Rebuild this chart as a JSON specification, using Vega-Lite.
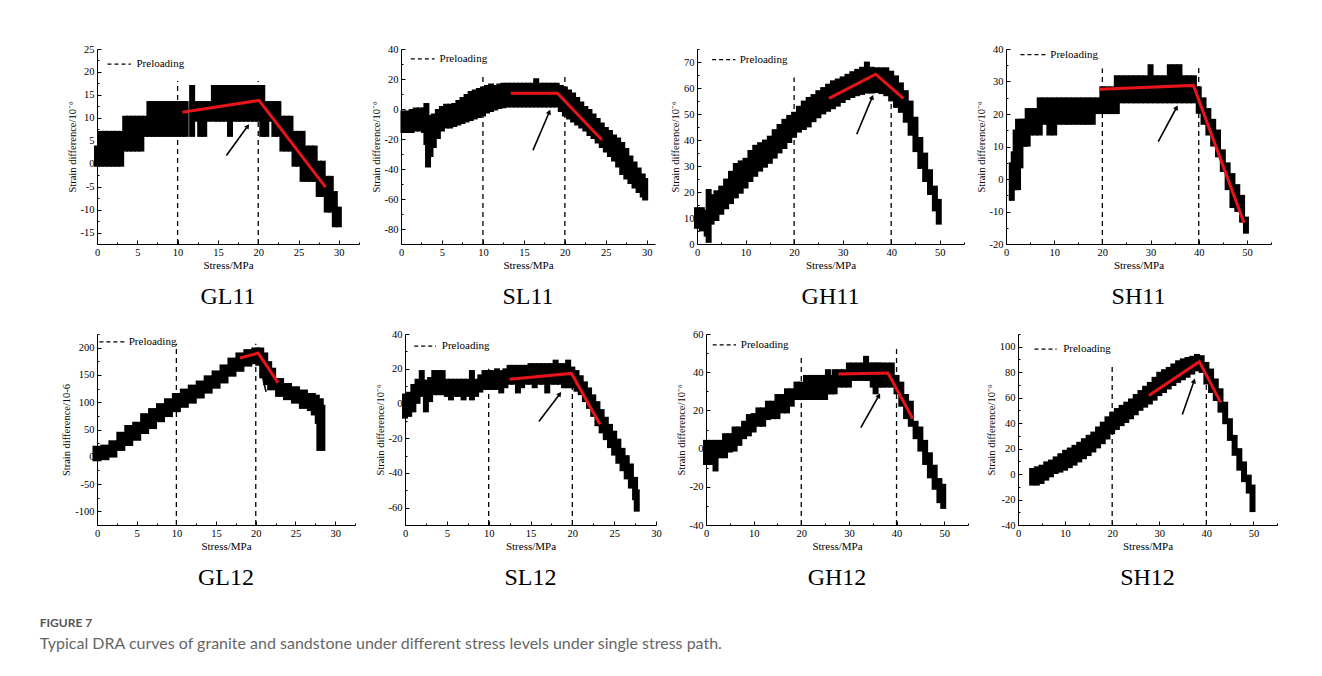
{
"$schema": "https://vega.github.io/schema/vega-lite/v6.json",
"background": "white",
"padding": {"left": 39, "top": 44, "right": 10, "bottom": 20},
"config": {
  "view": {"stroke": null},
  "axis": {"labelFont": "Liberation Serif", "titleFont": "Liberation Serif", "labelFontSize": 10.5, "titleFontSize": 11, "titleFontWeight": "normal", "labelColor": "#000", "titleColor": "#000", "domainColor": "#000", "tickColor": "#000", "grid": false, "tickSize": -4, "labelPadding": 7, "domainWidth": 1, "tickWidth": 1, "labelFlush": false, "labelOverlap": false, "tickCount": 40},
  "axisX": {"titlePadding": 0},
  "axisY": {"titleFontSize": 10.5, "titlePadding": 3}
},
"title": {"text": "FIGURE 7", "subtitle": "Typical DRA curves of granite and sandstone under different stress levels under single stress path.", "orient": "bottom", "anchor": "start", "font": "Lato", "fontSize": 12, "fontWeight": "bold", "color": "#555", "subtitleFont": "Lato", "subtitleFontSize": 16, "subtitleColor": "#666", "subtitlePadding": 6, "offset": 28, "dx": -22},
"datasets": {
  "pre": [
    {"p": "GL11", "x": 10, "y1": -17.5, "y2": 18}, {"p": "GL11", "x": 20, "y1": -17.5, "y2": 18},
    {"p": "SL11", "x": 10, "y1": -90, "y2": 23}, {"p": "SL11", "x": 20, "y1": -90, "y2": 24},
    {"p": "GH11", "x": 20, "y1": 0, "y2": 64}, {"p": "GH11", "x": 40, "y1": 0, "y2": 63.5},
    {"p": "SH11", "x": 20, "y1": -20, "y2": 34}, {"p": "SH11", "x": 40, "y1": -20, "y2": 34.5},
    {"p": "GL12", "x": 10, "y1": -125, "y2": 207}, {"p": "GL12", "x": 20, "y1": -125, "y2": 207},
    {"p": "SL12", "x": 10, "y1": -70, "y2": 20}, {"p": "SL12", "x": 20, "y1": -70, "y2": 20},
    {"p": "GH12", "x": 20, "y1": -40, "y2": 49}, {"p": "GH12", "x": 40, "y1": -40, "y2": 53},
    {"p": "SH12", "x": 20, "y1": -40, "y2": 85}, {"p": "SH12", "x": 40, "y1": -40, "y2": 74}
  ],
  "fit": [
    {"p": "GL11", "o": 1, "x": 10.6, "y": 11.2}, {"p": "GL11", "o": 2, "x": 20.1, "y": 13.8}, {"p": "GL11", "o": 3, "x": 28.35, "y": -5.1},
    {"p": "SL11", "o": 1, "x": 13.4, "y": 10.5}, {"p": "SL11", "o": 2, "x": 19.1, "y": 10.5}, {"p": "SL11", "o": 3, "x": 24.5, "y": -20.5},
    {"p": "GH11", "o": 1, "x": 27.2, "y": 56}, {"p": "GH11", "o": 2, "x": 36.8, "y": 65.3}, {"p": "GH11", "o": 3, "x": 42.5, "y": 56},
    {"p": "SH11", "o": 1, "x": 19.5, "y": 27.6}, {"p": "SH11", "o": 2, "x": 38.9, "y": 28.8}, {"p": "SH11", "o": 3, "x": 49.4, "y": -13.5},
    {"p": "GL12", "o": 1, "x": 18, "y": 181}, {"p": "GL12", "o": 2, "x": 20.3, "y": 190}, {"p": "GL12", "o": 3, "x": 22.8, "y": 136},
    {"p": "SL12", "o": 1, "x": 12.5, "y": 13.9}, {"p": "SL12", "o": 2, "x": 19.9, "y": 17.3}, {"p": "SL12", "o": 3, "x": 23.3, "y": -12},
    {"p": "GH12", "o": 1, "x": 27.8, "y": 39.1}, {"p": "GH12", "o": 2, "x": 38.2, "y": 39.6}, {"p": "GH12", "o": 3, "x": 43.4, "y": 15.7},
    {"p": "SH12", "o": 1, "x": 27.8, "y": 61.7}, {"p": "SH12", "o": 2, "x": 38.5, "y": 88.3}, {"p": "SH12", "o": 3, "x": 43.05, "y": 56.3}
  ],
  "arrow": [
    {"p": "GL11", "tx": 16.05, "ty": 1.8, "hx": 18.7, "hy": 8.2},
    {"p": "SL11", "tx": 16.1, "ty": -27.6, "hx": 18.1, "hy": -2},
    {"p": "GH11", "tx": 32.9, "ty": 42.2, "hx": 36.1, "hy": 56.5},
    {"p": "SH11", "tx": 31.6, "ty": 11.5, "hx": 35.4, "hy": 22},
    {"p": "GL12", "tx": 21.3, "ty": 119, "hx": 20.7, "hy": 155},
    {"p": "SL12", "tx": 16, "ty": -10.4, "hx": 18.5, "hy": 5.5},
    {"p": "GH12", "tx": 32.5, "ty": 11, "hx": 36.3, "hy": 27.8},
    {"p": "SH12", "tx": 34.9, "ty": 46.7, "hx": 37.4, "hy": 73.2}
  ],
  "leg": [
    {"p": "GL11", "x1": 1.3, "x2": 4.2, "y": 21.7, "tx": 4.9, "label": "Preloading"},
    {"p": "SL11", "x1": 1.2, "x2": 4.1, "y": 33.4, "tx": 4.7, "label": "Preloading"},
    {"p": "GH11", "x1": 3.1, "x2": 7.9, "y": 70.9, "tx": 8.8, "label": "Preloading"},
    {"p": "SH11", "x1": 3, "x2": 8.2, "y": 38.3, "tx": 9.2, "label": "Preloading"},
    {"p": "GL12", "x1": 0.3, "x2": 3.5, "y": 210.5, "tx": 4.0, "label": "Preloading"},
    {"p": "SL12", "x1": 1.1, "x2": 3.7, "y": 33, "tx": 4.4, "label": "Preloading"},
    {"p": "GH12", "x1": 1.4, "x2": 6.3, "y": 54.3, "tx": 7.3, "label": "Preloading"},
    {"p": "SH12", "x1": 3.5, "x2": 8.2, "y": 98.2, "tx": 9.6, "label": "Preloading"}
  ],
  "c_GL11": [
    {"x":0,"lo":0,"hi":3.3},{"x":0.5,"lo":0,"hi":6.5},{"x":1,"lo":0,"hi":6.5},{"x":1.5,"lo":0,"hi":6.5},{"x":2,"lo":0,"hi":6.5},{"x":2.5,"lo":0,"hi":6.5},{"x":3,"lo":0,"hi":6.5},
    {"x":3.5,"lo":3.3,"hi":9.8},{"x":4,"lo":3.3,"hi":9.8},{"x":4.5,"lo":3.3,"hi":9.8},{"x":5,"lo":3.3,"hi":9.8},{"x":5.5,"lo":3.3,"hi":9.8},{"x":6,"lo":6.5,"hi":9.8},
    {"x":6.5,"lo":6.5,"hi":13},{"x":7,"lo":6.5,"hi":13},{"x":7.5,"lo":6.5,"hi":13},{"x":8,"lo":6.5,"hi":13},{"x":8.5,"lo":6.5,"hi":13},{"x":9,"lo":6.5,"hi":13},{"x":9.5,"lo":6.5,"hi":13},{"x":10,"lo":6.5,"hi":13},{"x":10.5,"lo":6.5,"hi":13},{"x":11,"lo":6.5,"hi":13},
    {"x":11.8,"lo":6.5,"hi":16.5},{"x":12.3,"lo":9.8,"hi":13},{"x":12.8,"lo":6.5,"hi":13},{"x":13.3,"lo":6.5,"hi":13},{"x":13.8,"lo":9.8,"hi":13},
    {"x":14.5,"lo":9.8,"hi":16.5},{"x":15,"lo":9.8,"hi":16.5},{"x":15.5,"lo":9.8,"hi":16.5},{"x":16,"lo":9.8,"hi":16.5},{"x":16.5,"lo":6.5,"hi":16.5},{"x":17,"lo":9.8,"hi":16.5},{"x":17.5,"lo":9.8,"hi":16.5},{"x":18,"lo":9.8,"hi":16.5},{"x":18.5,"lo":9.8,"hi":16.5},{"x":19,"lo":9.8,"hi":16.5},{"x":19.5,"lo":9.8,"hi":16.5},{"x":20,"lo":9.8,"hi":16.5},{"x":20.5,"lo":6.5,"hi":16.5},
    {"x":21,"lo":6.5,"hi":13},{"x":21.5,"lo":9.8,"hi":13},{"x":22,"lo":6.5,"hi":13},{"x":22.5,"lo":6.5,"hi":13},
    {"x":23,"lo":3.3,"hi":9.8},{"x":23.5,"lo":3.3,"hi":9.8},{"x":24,"lo":3.3,"hi":9.8},{"x":24.5,"lo":0,"hi":6.5},{"x":25,"lo":0,"hi":6.5},{"x":25.5,"lo":-3.3,"hi":6.5},
    {"x":26,"lo":-3.3,"hi":3.3},{"x":26.5,"lo":-3.3,"hi":3.3},{"x":27,"lo":-3.3,"hi":3.3},{"x":27.5,"lo":-6.6,"hi":0},{"x":28,"lo":-6.6,"hi":0},
    {"x":28.5,"lo":-10,"hi":-3.3},{"x":29,"lo":-10,"hi":-3.3},{"x":29.5,"lo":-13.2,"hi":-6.6},{"x":30,"lo":-13.2,"hi":-10}
  ],
  "c_SL11": [
    {"x":0.3,"lo":-14,"hi":-3},{"x":0.8,"lo":-14,"hi":-3},{"x":1.3,"lo":-14,"hi":-2},{"x":1.8,"lo":-13,"hi":-1},{"x":2.3,"lo":-13,"hi":-1},{"x":2.8,"lo":-14,"hi":-1},
    {"x":3.1,"lo":-22,"hi":2},{"x":3.3,"lo":-37,"hi":-6},{"x":3.6,"lo":-30,"hi":-8},{"x":4,"lo":-24,"hi":-5},{"x":4.5,"lo":-18,"hi":-2},{"x":5,"lo":-13,"hi":0},
    {"x":5.5,"lo":-11,"hi":1.5},{"x":6,"lo":-11,"hi":1.5},{"x":6.5,"lo":-10,"hi":2},{"x":7,"lo":-9,"hi":4},{"x":7.5,"lo":-8,"hi":6},{"x":8,"lo":-7,"hi":8},{"x":8.5,"lo":-6,"hi":10},{"x":9,"lo":-5,"hi":11},{"x":9.5,"lo":-4,"hi":12},{"x":10,"lo":-3,"hi":13},
    {"x":10.5,"lo":-1,"hi":14},{"x":11,"lo":0,"hi":15},{"x":11.5,"lo":1,"hi":14},{"x":12,"lo":2,"hi":15},{"x":12.5,"lo":2.5,"hi":15.5},{"x":13,"lo":3,"hi":15.5},
    {"x":13.5,"lo":3,"hi":15.5},{"x":14,"lo":3,"hi":15.5},{"x":14.5,"lo":3,"hi":15.5},{"x":15,"lo":3,"hi":15.5},{"x":15.5,"lo":3,"hi":15.5},{"x":16,"lo":3,"hi":15.5},{"x":16.5,"lo":3,"hi":18.5},{"x":17,"lo":3,"hi":15.5},{"x":17.5,"lo":3,"hi":15.5},{"x":18,"lo":3,"hi":15.5},{"x":18.5,"lo":3,"hi":15.5},{"x":19,"lo":3,"hi":15.5},
    {"x":19.5,"lo":0,"hi":14},{"x":20,"lo":-3,"hi":13},{"x":20.5,"lo":-5,"hi":11},{"x":21,"lo":-7,"hi":9},{"x":21.5,"lo":-9,"hi":6},{"x":22,"lo":-11,"hi":3},{"x":22.5,"lo":-13,"hi":0},{"x":23,"lo":-16,"hi":-2},{"x":23.5,"lo":-18,"hi":-5},{"x":24,"lo":-21,"hi":-8},{"x":24.5,"lo":-24,"hi":-11},{"x":25,"lo":-27,"hi":-14},
    {"x":25.5,"lo":-30,"hi":-16},{"x":26,"lo":-33,"hi":-19},{"x":26.5,"lo":-37,"hi":-21},{"x":27,"lo":-42,"hi":-24},{"x":27.5,"lo":-45,"hi":-28},{"x":28,"lo":-48,"hi":-33},{"x":28.5,"lo":-51,"hi":-37},{"x":29,"lo":-54,"hi":-41},{"x":29.5,"lo":-57,"hi":-45},{"x":29.8,"lo":-59,"hi":-48}
  ],
  "c_GH11": [
    {"x":0,"lo":7,"hi":13},{"x":1,"lo":6,"hi":13},{"x":2,"lo":4,"hi":12},{"x":2.4,"lo":1.6,"hi":20},{"x":3,"lo":8.6,"hi":18},{"x":4,"lo":10,"hi":19.5},{"x":5,"lo":12.4,"hi":21.3},{"x":6,"lo":14.5,"hi":24},{"x":7,"lo":16.5,"hi":27},{"x":8,"lo":18.7,"hi":30},{"x":9,"lo":20.5,"hi":31},
    {"x":10,"lo":22.5,"hi":32},{"x":11,"lo":25,"hi":35},{"x":12,"lo":27,"hi":37},{"x":13,"lo":29,"hi":38},{"x":14,"lo":30.5,"hi":39},{"x":15,"lo":32,"hi":40.5},{"x":16,"lo":34,"hi":43},{"x":17,"lo":36,"hi":45},{"x":18,"lo":37.7,"hi":47},{"x":19,"lo":40,"hi":48.5},
    {"x":20,"lo":42,"hi":49.7},{"x":21,"lo":44,"hi":52},{"x":22,"lo":45,"hi":54},{"x":23,"lo":46,"hi":55.4},{"x":24,"lo":48,"hi":56.5},{"x":25,"lo":49.5,"hi":58},{"x":26,"lo":51,"hi":59.2},{"x":27,"lo":52,"hi":60.5},{"x":28,"lo":53,"hi":61.8},{"x":29,"lo":54,"hi":62.5},
    {"x":30,"lo":55.4,"hi":63.3},{"x":31,"lo":56.5,"hi":64.3},{"x":32,"lo":57.3,"hi":65.3},{"x":33,"lo":58,"hi":66.2},{"x":34,"lo":58.5,"hi":67},{"x":35,"lo":59,"hi":69},{"x":36,"lo":59,"hi":67},{"x":37,"lo":59.2,"hi":66.8},{"x":38,"lo":58.8,"hi":66.8},{"x":39,"lo":58,"hi":66.8},
    {"x":40,"lo":56,"hi":65.5},{"x":41,"lo":53.5,"hi":63.7},{"x":42,"lo":51.6,"hi":61},{"x":43,"lo":47.8,"hi":58},{"x":44,"lo":42.8,"hi":54},{"x":45,"lo":36.5,"hi":47.8},{"x":46,"lo":30,"hi":40},{"x":47,"lo":25,"hi":34},{"x":48,"lo":20,"hi":27.6},{"x":49,"lo":13.7,"hi":21.3},{"x":49.8,"lo":8.6,"hi":16.2}
  ],
  "c_SH11": [
    {"x":1.2,"lo":-5.8,"hi":4.2},{"x":1.6,"lo":-2.5,"hi":7.6},{"x":2,"lo":-2.5,"hi":14.3},{"x":2.5,"lo":-2.5,"hi":17.6},{"x":3,"lo":4.2,"hi":17.6},{"x":3.5,"lo":10.9,"hi":17.6},{"x":4,"lo":10.9,"hi":17.6},{"x":4.5,"lo":10.9,"hi":20.9},
    {"x":5,"lo":14.3,"hi":20.9},{"x":6,"lo":14.3,"hi":20.9},{"x":7,"lo":14.3,"hi":24.2},{"x":8,"lo":17.6,"hi":24.2},{"x":9,"lo":14.3,"hi":24.2},{"x":10,"lo":14.3,"hi":24.2},{"x":11,"lo":17.6,"hi":24.2},{"x":12,"lo":17.6,"hi":24.2},{"x":13,"lo":17.6,"hi":24.2},{"x":14,"lo":17.6,"hi":24.2},
    {"x":15,"lo":17.6,"hi":24.2},{"x":16,"lo":17.6,"hi":24.2},{"x":17,"lo":17.6,"hi":24.2},{"x":18,"lo":17.6,"hi":24.2},{"x":19,"lo":20.9,"hi":24.2},{"x":20,"lo":20.9,"hi":27.6},{"x":21,"lo":20.9,"hi":27.6},{"x":22,"lo":20.9,"hi":27.6},{"x":23,"lo":20.9,"hi":31},
    {"x":24,"lo":24.2,"hi":31},{"x":25,"lo":24.2,"hi":31},{"x":26,"lo":24.2,"hi":31},{"x":27,"lo":24.2,"hi":31},{"x":28,"lo":24.2,"hi":31},{"x":29,"lo":24.2,"hi":31},{"x":30,"lo":24.2,"hi":34.4},{"x":31,"lo":24.2,"hi":31},{"x":32,"lo":24.2,"hi":31},{"x":33,"lo":24.2,"hi":31},
    {"x":34,"lo":24.2,"hi":34.4},{"x":35,"lo":24.2,"hi":34.4},{"x":36,"lo":24.2,"hi":34.4},{"x":37,"lo":24.2,"hi":31},{"x":38,"lo":24.2,"hi":31},{"x":39,"lo":24.2,"hi":31},
    {"x":40,"lo":21,"hi":27.6},{"x":41,"lo":17.6,"hi":24.2},{"x":42,"lo":14.3,"hi":20.9},{"x":43,"lo":10.9,"hi":17.6},{"x":44,"lo":7.6,"hi":14.3},{"x":45,"lo":3.1,"hi":8.2},{"x":46,"lo":-2.5,"hi":4.2},{"x":47,"lo":-8,"hi":0.9},{"x":48,"lo":-9.2,"hi":-2.5},{"x":49,"lo":-12.5,"hi":-5.8},{"x":49.8,"lo":-15.9,"hi":-12.5}
  ],
  "c_GL12": [
    {"x":0,"lo":0,"hi":12},{"x":1,"lo":2,"hi":14},{"x":2,"lo":6.8,"hi":22},{"x":3,"lo":19,"hi":37.6},{"x":4,"lo":28,"hi":50},{"x":5,"lo":37.6,"hi":56},{"x":6,"lo":50,"hi":71.6},{"x":7,"lo":59,"hi":81},{"x":8,"lo":71.6,"hi":90},{"x":9,"lo":81,"hi":99},
    {"x":10,"lo":90,"hi":108.6},{"x":11,"lo":98,"hi":116.7},{"x":12,"lo":105.6,"hi":124},{"x":13,"lo":115,"hi":131.5},{"x":14,"lo":124,"hi":141},{"x":15,"lo":133,"hi":150},{"x":16,"lo":142.6,"hi":161},{"x":17,"lo":155,"hi":173.5},{"x":18,"lo":164,"hi":183},{"x":19,"lo":173.5,"hi":189},
    {"x":20,"lo":178,"hi":192},{"x":20.5,"lo":175,"hi":192},{"x":21,"lo":152,"hi":183},{"x":21.5,"lo":139.5,"hi":167},{"x":22,"lo":130,"hi":155},{"x":23,"lo":118,"hi":136},{"x":24,"lo":112,"hi":127},{"x":25,"lo":105.6,"hi":121},{"x":26,"lo":96,"hi":115},{"x":27,"lo":92,"hi":108.6},{"x":27.5,"lo":84,"hi":105.6},{"x":28,"lo":68.5,"hi":99},{"x":28.2,"lo":19,"hi":87}
  ],
  "c_SL12": [
    {"x":0,"lo":-7,"hi":4},{"x":0.5,"lo":-6,"hi":5},{"x":1,"lo":-3.4,"hi":9.5},{"x":1.5,"lo":1.5,"hi":12.5},{"x":2,"lo":5.5,"hi":17.5},{"x":2.5,"lo":-3.4,"hi":12},{"x":3,"lo":2.5,"hi":13.5},{"x":3.5,"lo":6.5,"hi":17.5},{"x":4,"lo":6.5,"hi":17.5},{"x":4.5,"lo":6.5,"hi":17.5},
    {"x":5,"lo":5.5,"hi":12.5},{"x":5.5,"lo":3.5,"hi":12.5},{"x":6,"lo":5.5,"hi":12.5},{"x":6.5,"lo":5.5,"hi":12.5},{"x":7,"lo":3.5,"hi":12.5},{"x":7.5,"lo":5.5,"hi":12.5},{"x":8,"lo":3.5,"hi":17.5},{"x":8.5,"lo":5.5,"hi":12.5},{"x":9,"lo":8,"hi":15},{"x":9.5,"lo":9.5,"hi":17.5},
    {"x":10,"lo":9.5,"hi":17.5},{"x":10.5,"lo":9.5,"hi":17.5},{"x":11,"lo":9.5,"hi":18.5},{"x":11.5,"lo":7.5,"hi":17.5},{"x":12,"lo":10.5,"hi":18.5},{"x":12.5,"lo":12.5,"hi":20.5},{"x":13,"lo":12.5,"hi":20.5},{"x":13.5,"lo":7.5,"hi":20.5},{"x":14,"lo":10.5,"hi":20.5},{"x":14.5,"lo":12.5,"hi":20.5},
    {"x":15,"lo":12.5,"hi":21.5},{"x":15.5,"lo":10.5,"hi":21.5},{"x":16,"lo":12.5,"hi":21.5},{"x":16.5,"lo":12.5,"hi":21.5},{"x":17,"lo":7.5,"hi":21.5},{"x":17.5,"lo":12.5,"hi":21.5},{"x":18,"lo":12.5,"hi":23.5},{"x":18.5,"lo":12.5,"hi":21.5},{"x":19,"lo":10.5,"hi":21.5},{"x":19.5,"lo":10.5,"hi":23.5},
    {"x":20,"lo":10.5,"hi":19.5},{"x":20.5,"lo":8.5,"hi":17.5},{"x":21,"lo":6.5,"hi":14.5},{"x":21.5,"lo":2.5,"hi":11},{"x":22,"lo":-1.4,"hi":7.5},{"x":22.5,"lo":-6,"hi":3.5},{"x":23,"lo":-11.4,"hi":-0.4},{"x":23.5,"lo":-15.5,"hi":-5},{"x":24,"lo":-19.4,"hi":-9.4},{"x":24.5,"lo":-24,"hi":-13.5},
    {"x":25,"lo":-28.3,"hi":-17.4},{"x":25.5,"lo":-33,"hi":-22},{"x":26,"lo":-37.3,"hi":-27.3},{"x":26.5,"lo":-42,"hi":-31.5},{"x":27,"lo":-47.3,"hi":-36.3},{"x":27.5,"lo":-54,"hi":-44},{"x":27.7,"lo":-60.6,"hi":-51.2}
  ],
  "c_GH12": [
    {"x":0,"lo":-7,"hi":3},{"x":1,"lo":-7,"hi":3},{"x":2,"lo":-10.4,"hi":3},{"x":3,"lo":-3.5,"hi":3},{"x":4,"lo":-3.5,"hi":6.5},{"x":5,"lo":-0.5,"hi":6.5},{"x":6,"lo":0,"hi":10},{"x":7,"lo":3,"hi":10},{"x":8,"lo":6.5,"hi":13},{"x":9,"lo":8,"hi":16.5},
    {"x":10,"lo":10,"hi":17},{"x":11,"lo":13,"hi":20},{"x":12,"lo":13,"hi":20},{"x":13,"lo":16.5,"hi":23.5},{"x":14,"lo":17,"hi":23.5},{"x":15,"lo":17,"hi":27},{"x":16,"lo":20,"hi":27},{"x":17,"lo":20,"hi":30},{"x":18,"lo":23.5,"hi":30},{"x":19,"lo":27,"hi":33.5},
    {"x":20,"lo":27,"hi":33.5},{"x":21,"lo":27,"hi":37},{"x":22,"lo":27,"hi":37},{"x":23,"lo":27,"hi":37},{"x":24,"lo":27,"hi":37},{"x":25,"lo":27,"hi":37},{"x":25.6,"lo":30,"hi":40},{"x":26.3,"lo":30,"hi":37},{"x":27,"lo":30,"hi":40},{"x":28,"lo":33.5,"hi":40},{"x":29,"lo":33.5,"hi":40},
    {"x":30,"lo":33.5,"hi":43.5},{"x":31,"lo":37,"hi":43.5},{"x":32,"lo":37,"hi":43.5},{"x":33,"lo":37,"hi":43.5},{"x":33.6,"lo":37,"hi":47},{"x":34.3,"lo":37,"hi":43.5},{"x":35,"lo":33.5,"hi":43.5},{"x":35.6,"lo":30,"hi":43.5},{"x":36.3,"lo":33.5,"hi":43.5},{"x":37,"lo":33.5,"hi":43.5},{"x":38,"lo":33.5,"hi":43.5},{"x":39,"lo":33.5,"hi":43.5},
    {"x":40,"lo":30,"hi":37},{"x":41,"lo":23.5,"hi":33.5},{"x":42,"lo":17,"hi":27},{"x":43,"lo":13,"hi":23.5},{"x":44,"lo":6.5,"hi":13},{"x":45,"lo":0,"hi":10},{"x":46,"lo":-7,"hi":3},{"x":47,"lo":-14,"hi":-3.5},{"x":48,"lo":-20,"hi":-10},{"x":49,"lo":-27,"hi":-17},{"x":49.8,"lo":-30,"hi":-20}
  ],
  "c_SH12": [
    {"x":3,"lo":-6.7,"hi":2.4},{"x":4,"lo":-6.7,"hi":3.7},{"x":5,"lo":-5.4,"hi":5},{"x":6,"lo":-2.8,"hi":7.6},{"x":7,"lo":-0.2,"hi":9},{"x":8,"lo":2.4,"hi":11.5},{"x":9,"lo":3.5,"hi":14},{"x":10,"lo":5,"hi":16.7},{"x":11,"lo":7,"hi":18.5},{"x":12,"lo":9,"hi":20.6},
    {"x":13,"lo":11.5,"hi":23},{"x":14,"lo":14,"hi":25.8},{"x":15,"lo":16.5,"hi":28.5},{"x":16,"lo":19.3,"hi":31},{"x":17,"lo":22.5,"hi":35},{"x":18,"lo":25.8,"hi":38.8},{"x":19,"lo":29.5,"hi":43},{"x":20,"lo":33.6,"hi":46.7},{"x":21,"lo":37,"hi":49.5},{"x":22,"lo":40,"hi":52},
    {"x":23,"lo":42.5,"hi":54.5},{"x":24,"lo":45.4,"hi":57},{"x":25,"lo":48.5,"hi":60.5},{"x":26,"lo":52,"hi":63.6},{"x":27,"lo":54.5,"hi":67},{"x":28,"lo":57,"hi":70},{"x":29,"lo":60,"hi":74},{"x":30,"lo":63.6,"hi":78},{"x":31,"lo":66,"hi":80},{"x":32,"lo":68.8,"hi":81.8},
    {"x":33,"lo":71.5,"hi":84.5},{"x":34,"lo":74,"hi":87},{"x":35,"lo":76,"hi":88.5},{"x":36,"lo":78,"hi":89.6},{"x":37,"lo":80.5,"hi":90.5},{"x":38,"lo":83,"hi":92},{"x":39,"lo":81.8,"hi":91},{"x":40,"lo":72.7,"hi":85.7},{"x":41,"lo":66,"hi":80.5},{"x":42,"lo":59.7,"hi":72.7},
    {"x":43,"lo":50.6,"hi":65},{"x":44,"lo":41.5,"hi":54.5},{"x":45,"lo":28.4,"hi":41.5},{"x":46,"lo":16.7,"hi":28.4},{"x":47,"lo":5,"hi":18},{"x":48,"lo":-4,"hi":7.6},{"x":49,"lo":-13,"hi":-2.8},{"x":49.8,"lo":-27.5,"hi":-10.6}
  ]
},
"vconcat": [
 {"hconcat": [
  {"width": 262, "height": 195,
   "title": {"text": "GL11", "orient": "bottom", "font": "Liberation Serif", "fontSize": 24, "fontWeight": "normal", "color": "#000", "offset": 14},
   "layer": [
    {"data": {"name": "pre"}, "transform": [{"filter": "datum.p == 'GL11'"}], "mark": {"type": "rule", "strokeDash": [5, 4], "strokeWidth": 1.3, "color": "#000"},
     "encoding": {"x": {"field": "x", "type": "quantitative", "scale": {"domain": [0, 32.5], "nice": false, "zero": false}, "axis": {"title": "Stress/MPa", "values": [0, 2.5, 5, 7.5, 10, 12.5, 15, 17.5, 20, 22.5, 25, 27.5, 30, 32.5], "labelExpr": "datum.value % 5 == 0 ? '' + datum.value : ''", "tickSize": {"condition": {"test": "datum.value % 5 == 0", "value": -4}, "value": -2}, "tickCount": 40}},
                  "y": {"field": "y1", "type": "quantitative", "scale": {"domain": [-17.5, 25], "nice": false, "zero": false}, "axis": {"title": "Strain difference/10⁻⁶", "values": [-17.5, -15, -12.5, -10, -7.5, -5, -2.5, 0, 2.5, 5, 7.5, 10, 12.5, 15, 17.5, 20, 22.5, 25], "labelExpr": "datum.value % 5 == 0 ? '' + datum.value : ''", "tickSize": {"condition": {"test": "datum.value % 5 == 0", "value": -4}, "value": -2}, "tickCount": 40}},
                  "y2": {"field": "y2"}}},
    {"data": {"name": "c_GL11"}, "mark": {"type": "rule", "strokeWidth": 6, "strokeCap": "square", "color": "#000"}, "encoding": {"x": {"field": "x", "type": "quantitative"}, "y": {"field": "lo", "type": "quantitative"}, "y2": {"field": "hi"}}},
    {"data": {"name": "fit"}, "transform": [{"filter": "datum.p == 'GL11'"}], "mark": {"type": "line", "color": "#e8141b", "strokeWidth": 3}, "encoding": {"x": {"field": "x", "type": "quantitative"}, "y": {"field": "y", "type": "quantitative"}, "order": {"field": "o"}}},
    {"data": {"name": "arrow"}, "transform": [{"filter": "datum.p == 'GL11'"}], "mark": {"type": "rule", "strokeWidth": 1.6, "color": "#000"}, "encoding": {"x": {"field": "tx", "type": "quantitative"}, "y": {"field": "ty", "type": "quantitative"}, "x2": {"field": "hx"}, "y2": {"field": "hy"}}},
    {"data": {"name": "arrow"}, "transform": [{"filter": "datum.p == 'GL11'"}], "mark": {"type": "point", "shape": "triangle-up", "filled": true, "size": 30, "angle": 36, "color": "#000", "opacity": 1}, "encoding": {"x": {"field": "hx", "type": "quantitative"}, "y": {"field": "hy", "type": "quantitative"}}},
    {"data": {"name": "leg"}, "transform": [{"filter": "datum.p == 'GL11'"}], "mark": {"type": "rule", "strokeDash": [4, 3], "strokeWidth": 1.2, "color": "#000"}, "encoding": {"x": {"field": "x1", "type": "quantitative"}, "x2": {"field": "x2"}, "y": {"field": "y", "type": "quantitative"}}},
    {"data": {"name": "leg"}, "transform": [{"filter": "datum.p == 'GL11'"}], "mark": {"type": "text", "align": "left", "baseline": "middle", "font": "Liberation Serif", "fontSize": 11, "color": "#000"}, "encoding": {"x": {"field": "tx", "type": "quantitative"}, "y": {"field": "y", "type": "quantitative"}, "text": {"field": "label"}}}
   ]},
  {"width": 254, "height": 195,
   "title": {"text": "SL11", "orient": "bottom", "font": "Liberation Serif", "fontSize": 24, "fontWeight": "normal", "color": "#000", "offset": 14},
   "layer": [
    {"data": {"name": "pre"}, "transform": [{"filter": "datum.p == 'SL11'"}], "mark": {"type": "rule", "strokeDash": [5, 4], "strokeWidth": 1.3, "color": "#000"},
     "encoding": {"x": {"field": "x", "type": "quantitative", "scale": {"domain": [0, 31], "nice": false, "zero": false}, "axis": {"title": "Stress/MPa", "values": [0, 2.5, 5, 7.5, 10, 12.5, 15, 17.5, 20, 22.5, 25, 27.5, 30], "labelExpr": "datum.value % 5 == 0 ? '' + datum.value : ''", "tickSize": {"condition": {"test": "datum.value % 5 == 0", "value": -4}, "value": -2}, "tickCount": 40}},
                  "y": {"field": "y1", "type": "quantitative", "scale": {"domain": [-90, 40], "nice": false, "zero": false}, "axis": {"title": "Strain difference/10⁻⁶", "values": [-90, -80, -70, -60, -50, -40, -30, -20, -10, 0, 10, 20, 30, 40], "labelExpr": "datum.value % 20 == 0 ? '' + datum.value : ''", "tickSize": {"condition": {"test": "datum.value % 20 == 0", "value": -4}, "value": -2}, "tickCount": 40}},
                  "y2": {"field": "y2"}}},
    {"data": {"name": "c_SL11"}, "mark": {"type": "rule", "strokeWidth": 6, "strokeCap": "square", "color": "#000"}, "encoding": {"x": {"field": "x", "type": "quantitative"}, "y": {"field": "lo", "type": "quantitative"}, "y2": {"field": "hi"}}},
    {"data": {"name": "fit"}, "transform": [{"filter": "datum.p == 'SL11'"}], "mark": {"type": "line", "color": "#e8141b", "strokeWidth": 3}, "encoding": {"x": {"field": "x", "type": "quantitative"}, "y": {"field": "y", "type": "quantitative"}, "order": {"field": "o"}}},
    {"data": {"name": "arrow"}, "transform": [{"filter": "datum.p == 'SL11'"}], "mark": {"type": "rule", "strokeWidth": 1.6, "color": "#000"}, "encoding": {"x": {"field": "tx", "type": "quantitative"}, "y": {"field": "ty", "type": "quantitative"}, "x2": {"field": "hx"}, "y2": {"field": "hy"}}},
    {"data": {"name": "arrow"}, "transform": [{"filter": "datum.p == 'SL11'"}], "mark": {"type": "point", "shape": "triangle-up", "filled": true, "size": 30, "angle": 23, "color": "#000", "opacity": 1}, "encoding": {"x": {"field": "hx", "type": "quantitative"}, "y": {"field": "hy", "type": "quantitative"}}},
    {"data": {"name": "leg"}, "transform": [{"filter": "datum.p == 'SL11'"}], "mark": {"type": "rule", "strokeDash": [4, 3], "strokeWidth": 1.2, "color": "#000"}, "encoding": {"x": {"field": "x1", "type": "quantitative"}, "x2": {"field": "x2"}, "y": {"field": "y", "type": "quantitative"}}},
    {"data": {"name": "leg"}, "transform": [{"filter": "datum.p == 'SL11'"}], "mark": {"type": "text", "align": "left", "baseline": "middle", "font": "Liberation Serif", "fontSize": 11, "color": "#000"}, "encoding": {"x": {"field": "tx", "type": "quantitative"}, "y": {"field": "y", "type": "quantitative"}, "text": {"field": "label"}}}
   ]},
  {"width": 267, "height": 195,
   "title": {"text": "GH11", "orient": "bottom", "font": "Liberation Serif", "fontSize": 24, "fontWeight": "normal", "color": "#000", "offset": 14},
   "layer": [
    {"data": {"name": "pre"}, "transform": [{"filter": "datum.p == 'GH11'"}], "mark": {"type": "rule", "strokeDash": [5, 4], "strokeWidth": 1.3, "color": "#000"},
     "encoding": {"x": {"field": "x", "type": "quantitative", "scale": {"domain": [0, 55], "nice": false, "zero": false}, "axis": {"title": "Stress/MPa", "values": [0, 5, 10, 15, 20, 25, 30, 35, 40, 45, 50, 55], "labelExpr": "datum.value % 10 == 0 ? '' + datum.value : ''", "tickSize": {"condition": {"test": "datum.value % 10 == 0", "value": -4}, "value": -2}, "tickCount": 40}},
                  "y": {"field": "y1", "type": "quantitative", "scale": {"domain": [0, 75], "nice": false, "zero": false}, "axis": {"title": "Strain difference/10⁻⁶", "values": [0, 5, 10, 15, 20, 25, 30, 35, 40, 45, 50, 55, 60, 65, 70, 75], "labelExpr": "datum.value % 10 == 0 ? '' + datum.value : ''", "tickSize": {"condition": {"test": "datum.value % 10 == 0", "value": -4}, "value": -2}, "tickCount": 40}},
                  "y2": {"field": "y2"}}},
    {"data": {"name": "c_GH11"}, "mark": {"type": "rule", "strokeWidth": 6, "strokeCap": "square", "color": "#000"}, "encoding": {"x": {"field": "x", "type": "quantitative"}, "y": {"field": "lo", "type": "quantitative"}, "y2": {"field": "hi"}}},
    {"data": {"name": "fit"}, "transform": [{"filter": "datum.p == 'GH11'"}], "mark": {"type": "line", "color": "#e8141b", "strokeWidth": 3}, "encoding": {"x": {"field": "x", "type": "quantitative"}, "y": {"field": "y", "type": "quantitative"}, "order": {"field": "o"}}},
    {"data": {"name": "arrow"}, "transform": [{"filter": "datum.p == 'GH11'"}], "mark": {"type": "rule", "strokeWidth": 1.6, "color": "#000"}, "encoding": {"x": {"field": "tx", "type": "quantitative"}, "y": {"field": "ty", "type": "quantitative"}, "x2": {"field": "hx"}, "y2": {"field": "hy"}}},
    {"data": {"name": "arrow"}, "transform": [{"filter": "datum.p == 'GH11'"}], "mark": {"type": "point", "shape": "triangle-up", "filled": true, "size": 30, "angle": 23, "color": "#000", "opacity": 1}, "encoding": {"x": {"field": "hx", "type": "quantitative"}, "y": {"field": "hy", "type": "quantitative"}}},
    {"data": {"name": "leg"}, "transform": [{"filter": "datum.p == 'GH11'"}], "mark": {"type": "rule", "strokeDash": [4, 3], "strokeWidth": 1.2, "color": "#000"}, "encoding": {"x": {"field": "x1", "type": "quantitative"}, "x2": {"field": "x2"}, "y": {"field": "y", "type": "quantitative"}}},
    {"data": {"name": "leg"}, "transform": [{"filter": "datum.p == 'GH11'"}], "mark": {"type": "text", "align": "left", "baseline": "middle", "font": "Liberation Serif", "fontSize": 11, "color": "#000"}, "encoding": {"x": {"field": "tx", "type": "quantitative"}, "y": {"field": "y", "type": "quantitative"}, "text": {"field": "label"}}}
   ]},
  {"width": 265, "height": 195,
   "title": {"text": "SH11", "orient": "bottom", "font": "Liberation Serif", "fontSize": 24, "fontWeight": "normal", "color": "#000", "offset": 14},
   "layer": [
    {"data": {"name": "pre"}, "transform": [{"filter": "datum.p == 'SH11'"}], "mark": {"type": "rule", "strokeDash": [5, 4], "strokeWidth": 1.3, "color": "#000"},
     "encoding": {"x": {"field": "x", "type": "quantitative", "scale": {"domain": [0, 55], "nice": false, "zero": false}, "axis": {"title": "Stress/MPa", "values": [0, 5, 10, 15, 20, 25, 30, 35, 40, 45, 50, 55], "labelExpr": "datum.value % 10 == 0 ? '' + datum.value : ''", "tickSize": {"condition": {"test": "datum.value % 10 == 0", "value": -4}, "value": -2}, "tickCount": 40}},
                  "y": {"field": "y1", "type": "quantitative", "scale": {"domain": [-20, 40], "nice": false, "zero": false}, "axis": {"title": "Strain difference/10⁻⁶", "values": [-20, -15, -10, -5, 0, 5, 10, 15, 20, 25, 30, 35, 40], "labelExpr": "datum.value % 10 == 0 ? '' + datum.value : ''", "tickSize": {"condition": {"test": "datum.value % 10 == 0", "value": -4}, "value": -2}, "tickCount": 40}},
                  "y2": {"field": "y2"}}},
    {"data": {"name": "c_SH11"}, "mark": {"type": "rule", "strokeWidth": 6, "strokeCap": "square", "color": "#000"}, "encoding": {"x": {"field": "x", "type": "quantitative"}, "y": {"field": "lo", "type": "quantitative"}, "y2": {"field": "hi"}}},
    {"data": {"name": "fit"}, "transform": [{"filter": "datum.p == 'SH11'"}], "mark": {"type": "line", "color": "#e8141b", "strokeWidth": 3}, "encoding": {"x": {"field": "x", "type": "quantitative"}, "y": {"field": "y", "type": "quantitative"}, "order": {"field": "o"}}},
    {"data": {"name": "arrow"}, "transform": [{"filter": "datum.p == 'SH11'"}], "mark": {"type": "rule", "strokeWidth": 1.6, "color": "#000"}, "encoding": {"x": {"field": "tx", "type": "quantitative"}, "y": {"field": "ty", "type": "quantitative"}, "x2": {"field": "hx"}, "y2": {"field": "hy"}}},
    {"data": {"name": "arrow"}, "transform": [{"filter": "datum.p == 'SH11'"}], "mark": {"type": "point", "shape": "triangle-up", "filled": true, "size": 30, "angle": 28, "color": "#000", "opacity": 1}, "encoding": {"x": {"field": "hx", "type": "quantitative"}, "y": {"field": "hy", "type": "quantitative"}}},
    {"data": {"name": "leg"}, "transform": [{"filter": "datum.p == 'SH11'"}], "mark": {"type": "rule", "strokeDash": [4, 3], "strokeWidth": 1.2, "color": "#000"}, "encoding": {"x": {"field": "x1", "type": "quantitative"}, "x2": {"field": "x2"}, "y": {"field": "y", "type": "quantitative"}}},
    {"data": {"name": "leg"}, "transform": [{"filter": "datum.p == 'SH11'"}], "mark": {"type": "text", "align": "left", "baseline": "middle", "font": "Liberation Serif", "fontSize": 11, "color": "#000"}, "encoding": {"x": {"field": "tx", "type": "quantitative"}, "y": {"field": "y", "type": "quantitative"}, "text": {"field": "label"}}}
   ]}
 ], "spacing": 42, "bounds": "flush"},
 {"hconcat": [
  {"width": 258, "height": 191,
   "title": {"text": "GL12", "orient": "bottom", "font": "Liberation Serif", "fontSize": 24, "fontWeight": "normal", "color": "#000", "offset": 14},
   "layer": [
    {"data": {"name": "pre"}, "transform": [{"filter": "datum.p == 'GL12'"}], "mark": {"type": "rule", "strokeDash": [5, 4], "strokeWidth": 1.3, "color": "#000"},
     "encoding": {"x": {"field": "x", "type": "quantitative", "scale": {"domain": [0, 32.5], "nice": false, "zero": false}, "axis": {"title": "Stress/MPa", "values": [0, 2.5, 5, 7.5, 10, 12.5, 15, 17.5, 20, 22.5, 25, 27.5, 30, 32.5], "labelExpr": "datum.value % 5 == 0 ? '' + datum.value : ''", "tickSize": {"condition": {"test": "datum.value % 5 == 0", "value": -4}, "value": -2}, "tickCount": 40}},
                  "y": {"field": "y1", "type": "quantitative", "scale": {"domain": [-125, 225], "nice": false, "zero": false}, "axis": {"title": "Strain difference/10-6", "values": [-125, -100, -75, -50, -25, 0, 25, 50, 75, 100, 125, 150, 175, 200, 225], "labelExpr": "datum.value % 50 == 0 ? '' + datum.value : ''", "tickSize": {"condition": {"test": "datum.value % 50 == 0", "value": -4}, "value": -2}, "tickCount": 40}},
                  "y2": {"field": "y2"}}},
    {"data": {"name": "c_GL12"}, "mark": {"type": "rule", "strokeWidth": 9, "strokeCap": "square", "color": "#000"}, "encoding": {"x": {"field": "x", "type": "quantitative"}, "y": {"field": "lo", "type": "quantitative"}, "y2": {"field": "hi"}}},
    {"data": {"name": "fit"}, "transform": [{"filter": "datum.p == 'GL12'"}], "mark": {"type": "line", "color": "#e8141b", "strokeWidth": 3}, "encoding": {"x": {"field": "x", "type": "quantitative"}, "y": {"field": "y", "type": "quantitative"}, "order": {"field": "o"}}},
    {"data": {"name": "arrow"}, "transform": [{"filter": "datum.p == 'GL12'"}], "mark": {"type": "rule", "strokeWidth": 1.6, "color": "#000"}, "encoding": {"x": {"field": "tx", "type": "quantitative"}, "y": {"field": "ty", "type": "quantitative"}, "x2": {"field": "hx"}, "y2": {"field": "hy"}}},
    {"data": {"name": "arrow"}, "transform": [{"filter": "datum.p == 'GL12'"}], "mark": {"type": "point", "shape": "triangle-up", "filled": true, "size": 30, "angle": -14, "color": "#000", "opacity": 1}, "encoding": {"x": {"field": "hx", "type": "quantitative"}, "y": {"field": "hy", "type": "quantitative"}}},
    {"data": {"name": "leg"}, "transform": [{"filter": "datum.p == 'GL12'"}], "mark": {"type": "rule", "strokeDash": [4, 3], "strokeWidth": 1.2, "color": "#000"}, "encoding": {"x": {"field": "x1", "type": "quantitative"}, "x2": {"field": "x2"}, "y": {"field": "y", "type": "quantitative"}}},
    {"data": {"name": "leg"}, "transform": [{"filter": "datum.p == 'GL12'"}], "mark": {"type": "text", "align": "left", "baseline": "middle", "font": "Liberation Serif", "fontSize": 11, "color": "#000"}, "encoding": {"x": {"field": "tx", "type": "quantitative"}, "y": {"field": "y", "type": "quantitative"}, "text": {"field": "label"}}}
   ]},
  {"width": 251, "height": 191,
   "title": {"text": "SL12", "orient": "bottom", "font": "Liberation Serif", "fontSize": 24, "fontWeight": "normal", "color": "#000", "offset": 14},
   "layer": [
    {"data": {"name": "pre"}, "transform": [{"filter": "datum.p == 'SL12'"}], "mark": {"type": "rule", "strokeDash": [5, 4], "strokeWidth": 1.3, "color": "#000"},
     "encoding": {"x": {"field": "x", "type": "quantitative", "scale": {"domain": [0, 30], "nice": false, "zero": false}, "axis": {"title": "Stress/MPa", "values": [0, 2.5, 5, 7.5, 10, 12.5, 15, 17.5, 20, 22.5, 25, 27.5, 30], "labelExpr": "datum.value % 5 == 0 ? '' + datum.value : ''", "tickSize": {"condition": {"test": "datum.value % 5 == 0", "value": -4}, "value": -2}, "tickCount": 40}},
                  "y": {"field": "y1", "type": "quantitative", "scale": {"domain": [-70, 40], "nice": false, "zero": false}, "axis": {"title": "Strain difference/10⁻⁶", "values": [-70, -60, -50, -40, -30, -20, -10, 0, 10, 20, 30, 40], "labelExpr": "datum.value % 20 == 0 ? '' + datum.value : ''", "tickSize": {"condition": {"test": "datum.value % 20 == 0", "value": -4}, "value": -2}, "tickCount": 40}},
                  "y2": {"field": "y2"}}},
    {"data": {"name": "c_SL12"}, "mark": {"type": "rule", "strokeWidth": 6, "strokeCap": "square", "color": "#000"}, "encoding": {"x": {"field": "x", "type": "quantitative"}, "y": {"field": "lo", "type": "quantitative"}, "y2": {"field": "hi"}}},
    {"data": {"name": "fit"}, "transform": [{"filter": "datum.p == 'SL12'"}], "mark": {"type": "line", "color": "#e8141b", "strokeWidth": 3}, "encoding": {"x": {"field": "x", "type": "quantitative"}, "y": {"field": "y", "type": "quantitative"}, "order": {"field": "o"}}},
    {"data": {"name": "arrow"}, "transform": [{"filter": "datum.p == 'SL12'"}], "mark": {"type": "rule", "strokeWidth": 1.6, "color": "#000"}, "encoding": {"x": {"field": "tx", "type": "quantitative"}, "y": {"field": "ty", "type": "quantitative"}, "x2": {"field": "hx"}, "y2": {"field": "hy"}}},
    {"data": {"name": "arrow"}, "transform": [{"filter": "datum.p == 'SL12'"}], "mark": {"type": "point", "shape": "triangle-up", "filled": true, "size": 30, "angle": 37, "color": "#000", "opacity": 1}, "encoding": {"x": {"field": "hx", "type": "quantitative"}, "y": {"field": "hy", "type": "quantitative"}}},
    {"data": {"name": "leg"}, "transform": [{"filter": "datum.p == 'SL12'"}], "mark": {"type": "rule", "strokeDash": [4, 3], "strokeWidth": 1.2, "color": "#000"}, "encoding": {"x": {"field": "x1", "type": "quantitative"}, "x2": {"field": "x2"}, "y": {"field": "y", "type": "quantitative"}}},
    {"data": {"name": "leg"}, "transform": [{"filter": "datum.p == 'SL12'"}], "mark": {"type": "text", "align": "left", "baseline": "middle", "font": "Liberation Serif", "fontSize": 11, "color": "#000"}, "encoding": {"x": {"field": "tx", "type": "quantitative"}, "y": {"field": "y", "type": "quantitative"}, "text": {"field": "label"}}}
   ]},
  {"width": 262, "height": 191,
   "title": {"text": "GH12", "orient": "bottom", "font": "Liberation Serif", "fontSize": 24, "fontWeight": "normal", "color": "#000", "offset": 14},
   "layer": [
    {"data": {"name": "pre"}, "transform": [{"filter": "datum.p == 'GH12'"}], "mark": {"type": "rule", "strokeDash": [5, 4], "strokeWidth": 1.3, "color": "#000"},
     "encoding": {"x": {"field": "x", "type": "quantitative", "scale": {"domain": [0, 55], "nice": false, "zero": false}, "axis": {"title": "Stress/MPa", "values": [0, 5, 10, 15, 20, 25, 30, 35, 40, 45, 50, 55], "labelExpr": "datum.value % 10 == 0 ? '' + datum.value : ''", "tickSize": {"condition": {"test": "datum.value % 10 == 0", "value": -4}, "value": -2}, "tickCount": 40}},
                  "y": {"field": "y1", "type": "quantitative", "scale": {"domain": [-40, 60], "nice": false, "zero": false}, "axis": {"title": "Strain difference/10⁻⁶", "values": [-40, -30, -20, -10, 0, 10, 20, 30, 40, 50, 60], "labelExpr": "datum.value % 20 == 0 ? '' + datum.value : ''", "tickSize": {"condition": {"test": "datum.value % 20 == 0", "value": -4}, "value": -2}, "tickCount": 40}},
                  "y2": {"field": "y2"}}},
    {"data": {"name": "c_GH12"}, "mark": {"type": "rule", "strokeWidth": 6, "strokeCap": "square", "color": "#000"}, "encoding": {"x": {"field": "x", "type": "quantitative"}, "y": {"field": "lo", "type": "quantitative"}, "y2": {"field": "hi"}}},
    {"data": {"name": "fit"}, "transform": [{"filter": "datum.p == 'GH12'"}], "mark": {"type": "line", "color": "#e8141b", "strokeWidth": 3}, "encoding": {"x": {"field": "x", "type": "quantitative"}, "y": {"field": "y", "type": "quantitative"}, "order": {"field": "o"}}},
    {"data": {"name": "arrow"}, "transform": [{"filter": "datum.p == 'GH12'"}], "mark": {"type": "rule", "strokeWidth": 1.6, "color": "#000"}, "encoding": {"x": {"field": "tx", "type": "quantitative"}, "y": {"field": "ty", "type": "quantitative"}, "x2": {"field": "hx"}, "y2": {"field": "hy"}}},
    {"data": {"name": "arrow"}, "transform": [{"filter": "datum.p == 'GH12'"}], "mark": {"type": "point", "shape": "triangle-up", "filled": true, "size": 30, "angle": 29, "color": "#000", "opacity": 1}, "encoding": {"x": {"field": "hx", "type": "quantitative"}, "y": {"field": "hy", "type": "quantitative"}}},
    {"data": {"name": "leg"}, "transform": [{"filter": "datum.p == 'GH12'"}], "mark": {"type": "rule", "strokeDash": [4, 3], "strokeWidth": 1.2, "color": "#000"}, "encoding": {"x": {"field": "x1", "type": "quantitative"}, "x2": {"field": "x2"}, "y": {"field": "y", "type": "quantitative"}}},
    {"data": {"name": "leg"}, "transform": [{"filter": "datum.p == 'GH12'"}], "mark": {"type": "text", "align": "left", "baseline": "middle", "font": "Liberation Serif", "fontSize": 11, "color": "#000"}, "encoding": {"x": {"field": "tx", "type": "quantitative"}, "y": {"field": "y", "type": "quantitative"}, "text": {"field": "label"}}}
   ]},
  {"width": 259, "height": 191,
   "title": {"text": "SH12", "orient": "bottom", "font": "Liberation Serif", "fontSize": 24, "fontWeight": "normal", "color": "#000", "offset": 14},
   "layer": [
    {"data": {"name": "pre"}, "transform": [{"filter": "datum.p == 'SH12'"}], "mark": {"type": "rule", "strokeDash": [5, 4], "strokeWidth": 1.3, "color": "#000"},
     "encoding": {"x": {"field": "x", "type": "quantitative", "scale": {"domain": [0, 55], "nice": false, "zero": false}, "axis": {"title": "Stress/MPa", "values": [0, 5, 10, 15, 20, 25, 30, 35, 40, 45, 50, 55], "labelExpr": "datum.value % 10 == 0 ? '' + datum.value : ''", "tickSize": {"condition": {"test": "datum.value % 10 == 0", "value": -4}, "value": -2}, "tickCount": 40}},
                  "y": {"field": "y1", "type": "quantitative", "scale": {"domain": [-40, 110], "nice": false, "zero": false}, "axis": {"title": "Strain difference/10⁻⁶", "values": [-40, -30, -20, -10, 0, 10, 20, 30, 40, 50, 60, 70, 80, 90, 100, 110], "labelExpr": "datum.value % 20 == 0 ? '' + datum.value : ''", "tickSize": {"condition": {"test": "datum.value % 20 == 0", "value": -4}, "value": -2}, "tickCount": 40}},
                  "y2": {"field": "y2"}}},
    {"data": {"name": "c_SH12"}, "mark": {"type": "rule", "strokeWidth": 6, "strokeCap": "square", "color": "#000"}, "encoding": {"x": {"field": "x", "type": "quantitative"}, "y": {"field": "lo", "type": "quantitative"}, "y2": {"field": "hi"}}},
    {"data": {"name": "fit"}, "transform": [{"filter": "datum.p == 'SH12'"}], "mark": {"type": "line", "color": "#e8141b", "strokeWidth": 3}, "encoding": {"x": {"field": "x", "type": "quantitative"}, "y": {"field": "y", "type": "quantitative"}, "order": {"field": "o"}}},
    {"data": {"name": "arrow"}, "transform": [{"filter": "datum.p == 'SH12'"}], "mark": {"type": "rule", "strokeWidth": 1.6, "color": "#000"}, "encoding": {"x": {"field": "tx", "type": "quantitative"}, "y": {"field": "ty", "type": "quantitative"}, "x2": {"field": "hx"}, "y2": {"field": "hy"}}},
    {"data": {"name": "arrow"}, "transform": [{"filter": "datum.p == 'SH12'"}], "mark": {"type": "point", "shape": "triangle-up", "filled": true, "size": 30, "angle": 19, "color": "#000", "opacity": 1}, "encoding": {"x": {"field": "hx", "type": "quantitative"}, "y": {"field": "hy", "type": "quantitative"}}},
    {"data": {"name": "leg"}, "transform": [{"filter": "datum.p == 'SH12'"}], "mark": {"type": "rule", "strokeDash": [4, 3], "strokeWidth": 1.2, "color": "#000"}, "encoding": {"x": {"field": "x1", "type": "quantitative"}, "x2": {"field": "x2"}, "y": {"field": "y", "type": "quantitative"}}},
    {"data": {"name": "leg"}, "transform": [{"filter": "datum.p == 'SH12'"}], "mark": {"type": "text", "align": "left", "baseline": "middle", "font": "Liberation Serif", "fontSize": 11, "color": "#000"}, "encoding": {"x": {"field": "tx", "type": "quantitative"}, "y": {"field": "y", "type": "quantitative"}, "text": {"field": "label"}}}
   ]}
 ], "spacing": 50, "bounds": "flush"}
],
"spacing": 20
}
